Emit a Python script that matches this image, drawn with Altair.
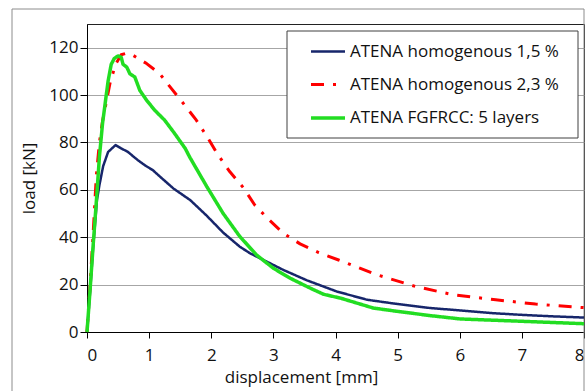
import altair as alt
import pandas as pd

# ---- data ----
series_names = ["ATENA homogenous 1,5 %", "ATENA homogenous 2,3 %", "ATENA FGFRCC: 5 layers"]
series_colors = ["#17266B", "#FF0000", "#22DD22"]

x_15 = [0, 0.05, 0.1, 0.16, 0.2, 0.26, 0.34, 0.46, 0.55, 0.66, 0.75, 0.82, 0.93, 1.06, 1.2, 1.39,
        1.66, 1.93, 2.19, 2.46, 2.62, 2.84, 3.16, 3.54, 4.02, 4.51, 5.0, 5.53, 6.01, 6.5, 7.02, 7.5, 8.0]
y_15 = [0, 17, 36, 55.7, 62, 70, 76, 78.9, 77.5, 76, 74, 72.5, 70.4, 68.3, 65, 60.6,
        55.7, 49, 42, 36, 33.3, 30.4, 26.2, 21.8, 17.1, 13.6, 11.8, 10.1, 9.1, 8.0, 7.2, 6.6, 6.1]

x_23 = [0, 0.05, 0.1, 0.15, 0.2, 0.25, 0.31, 0.37, 0.46, 0.55, 0.64, 0.74, 0.96, 1.17, 1.36, 1.58,
        1.76, 1.95, 2.11, 2.30, 2.52, 2.70, 2.92, 3.16, 3.43, 3.73, 4.05, 4.67, 5.29, 5.9, 6.58, 7.22, 7.87, 8.0]
y_23 = [0, 20, 42, 66, 80, 89, 97, 105, 113, 117, 117.7, 116.8, 113.3, 109, 102.7, 95.5,
        89.4, 81.7, 74.7, 67.6, 60.8, 53.6, 47.6, 41.7, 37.2, 33.5, 30.4, 24.1, 19.2, 15.7, 13.6, 11.8, 10.5, 10.3]

x_fg = [0, 0.05, 0.1, 0.15, 0.2, 0.25, 0.29, 0.34, 0.39, 0.44, 0.5, 0.55, 0.58, 0.64, 0.69, 0.77,
        0.85, 0.96, 1.09, 1.25, 1.41, 1.58, 1.66, 1.93, 2.19, 2.46, 2.73, 3.0, 3.27, 3.54, 3.65, 3.81,
        4.08, 4.61, 5.0, 5.53, 6.01, 7.02, 8.0]
y_fg = [0, 18, 37, 55, 74, 88, 96, 106, 113, 115.5, 116.5, 116, 113, 111.8, 109, 107.6,
        102, 97.8, 93.6, 89.4, 83.8, 77.5, 73.5, 61.3, 50.1, 40.3, 32.5, 26.9, 22.7, 19.2, 17.8, 15.9,
        14.3, 10.1, 8.7, 6.9, 5.5, 4.5, 3.5]

x_ticks = [0, 1, 2, 3, 4, 5, 6, 7, 8]
y_ticks = [0, 20, 40, 60, 80, 100, 120]

rows = []
for name, xs, ys in zip(series_names, [x_15, x_23, x_fg], [y_15, y_23, y_fg]):
    for i, (xv, yv) in enumerate(zip(xs, ys)):
        rows.append({"series": name, "x": xv, "y": yv, "order": i})
df = pd.DataFrame(rows)

FONT = "Open Sans"
TXT = "#111111"

lines = alt.Chart(df).mark_line(strokeCap="butt", strokeJoin="round").encode(
    x=alt.X("x:Q",
            scale=alt.Scale(domain=[0, 8], nice=False),
            axis=alt.Axis(values=x_ticks, grid=False, tickSize=6, tickColor="#000000",
                          domainColor="#000000", labelFont=FONT, labelFontSize=17,
                          labelColor=TXT, labelBaseline="middle", labelPadding=17,
                          title="displacement [mm]", titleFont=FONT, titleFontSize=17,
                          titleFontWeight="normal", titleColor=TXT,
                          titleX=214, titleY=45, titleAlign="center", titleBaseline="middle")),
    y=alt.Y("y:Q",
            scale=alt.Scale(domain=[0, 130], nice=False),
            axis=alt.Axis(values=y_ticks, grid=True, gridColor="#A6A6A6", tickSize=7,
                          tickColor="#000000", domainColor="#000000", labelFont=FONT,
                          labelFontSize=17, labelColor=TXT, labelPadding=2,
                          title="load [kN]", titleFont=FONT, titleFontSize=17,
                          titleFontWeight="normal", titleColor=TXT,
                          titleX=-58, titleY=154, titleAngle=270, titleAlign="center",
                          titleBaseline="middle")),
    color=alt.Color("series:N",
                    scale=alt.Scale(domain=series_names, range=series_colors),
                    legend=alt.Legend(title=None, orient="none", legendX=222, legendY=9,
                                      direction="vertical",
                                      padding=0, rowPadding=6,
                                      symbolType="stroke", symbolSize=1156,
                                      symbolStrokeWidth=3, labelOffset=3,
                                      labelFont=FONT, labelFontSize=17, labelColor=TXT,
                                      labelLimit=400)),
    strokeDash=alt.StrokeDash("series:N",
                              scale=alt.Scale(domain=series_names,
                                              range=[[1, 0], [13, 9, 3, 9], [1, 0]]),
                              legend=None),
    strokeWidth=alt.StrokeWidth("series:N",
                                scale=alt.Scale(domain=series_names, range=[2.5, 3.5, 3.5]),
                                legend=None),
    order="order:Q",
)

one = pd.DataFrame({"a": [0]})

frame = alt.Chart(one).mark_rect(
    filled=False, stroke="#8C8C8C", strokeWidth=1
).encode(x=alt.value(-75), y=alt.value(-15), x2=alt.value(497), y2=alt.value(420))

legend_box = alt.Chart(one).mark_rect(
    fill="#FFFFFF", stroke="#404040", strokeWidth=1
).encode(x=alt.value(200), y=alt.value(7), x2=alt.value(491), y2=alt.value(114))

chart = alt.layer(frame, legend_box, lines).properties(
    width=497, height=308,
    autosize=alt.AutoSizeParams(type="none"),
    padding={"left": 87, "top": 24, "right": 3, "bottom": 59},
    background="#FFFFFF",
).configure_view(stroke="#222222", strokeWidth=1)

chart.save("out.html", embed_options={"renderer": "svg", "actions": False})
